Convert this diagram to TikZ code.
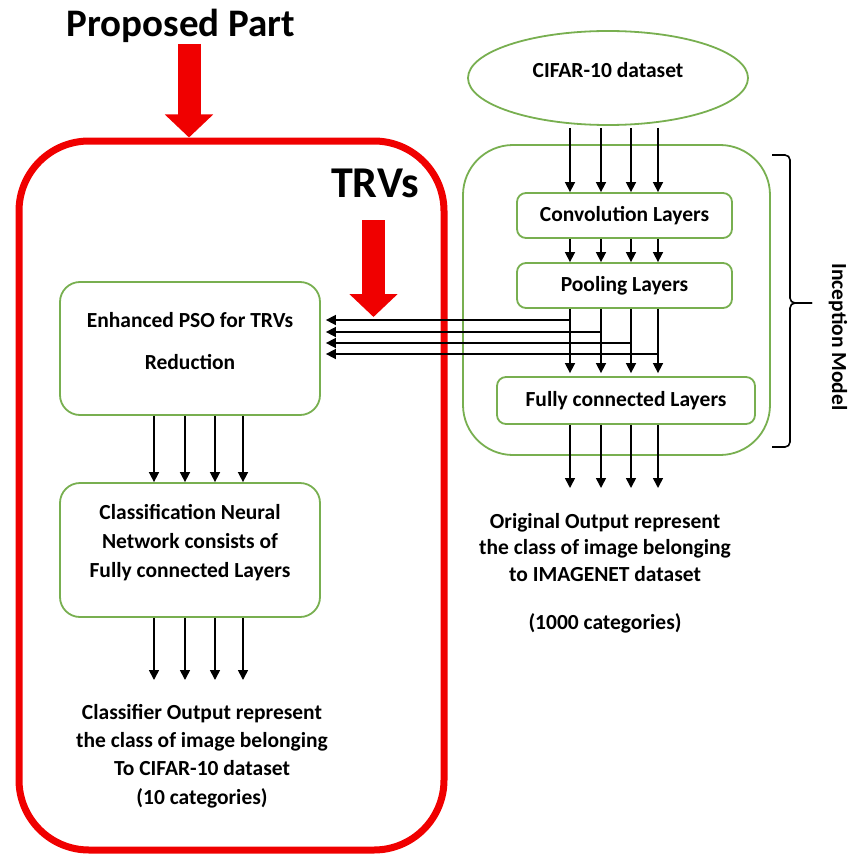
\documentclass[tikz,border=0pt]{standalone}
\usepackage{fontspec}
\setmainfont{Carlito}
\usetikzlibrary{arrows.meta,shapes.geometric}
\definecolor{leaf}{RGB}{120,175,80}
\definecolor{alarm}{RGB}{240,0,0}
\begin{document}
\begin{tikzpicture}[x=1pt,y=-1pt,
  lbl/.style={font=\bfseries\fontsize{21.5}{28.5}\selectfont, align=center, inner sep=0pt},
  greenbox/.style={draw=leaf, line width=1.8pt, inner sep=0pt},
  arr/.style={line width=1.6pt, -{Triangle[width=10pt,length=10pt]}},
  bigarrow/.style={alarm, line width=23pt, -{Triangle[width=47pt,length=23pt]}}
]
\useasboundingbox (0,0) rectangle (848,856);

% ---------- proposed part (left) ----------
\node[draw=alarm, line width=7pt, rounded corners=70pt, minimum width=425pt,
      minimum height=709pt, inner sep=0pt] (proposed) at (231.5,495.5) {};
\node[anchor=base, font=\bfseries\fontsize{39}{43}\selectfont, inner sep=0pt]
      (ptitle) at (181,37) {Proposed Part};
\coordinate (pstart) at (189,44);
\draw[bigarrow] (pstart) -- (pstart |- proposed.north);

\node[anchor=base, font=\bfseries\fontsize{44}{48}\selectfont, inner sep=0pt]
      (trvs) at (375,197) {TRVs};
\coordinate (tstart) at (373.5,220);
\coordinate (ttip) at (373.5,317);
\draw[bigarrow] (tstart) -- (ttip);

\node[greenbox, rounded corners=20pt, minimum width=260pt, minimum height=133pt]
      (pso) at (190,348.5) {};
\node[lbl] (psotext) at (190,320) {Enhanced PSO for TRVs};
\node[lbl] (psotext2) at (190,362) {Reduction};

\node[greenbox, rounded corners=20pt, minimum width=260pt, minimum height=134pt]
      (cls) at (190,550) {};
\node[lbl, font=\bfseries\fontsize{21.5}{29}\selectfont] (clstext) at (190,543)
      {Classification Neural\\ Network consists of\\ Fully connected Layers};

\node[lbl, anchor=north, font=\bfseries\fontsize{21.5}{28.3}\selectfont] (clsout) at (202,704)
      {Classifier Output represent\\ the class of image belonging\\ To CIFAR-10 dataset\\ (10 categories)};

% left arrow columns
\foreach \i/\x in {1/154,2/185,3/215,4/243}{
  \coordinate (lc\i) at (\x,0);
}
\coordinate (clsend) at (0,680);
\foreach \i in {1,...,4}{
  \draw[arr] (lc\i |- pso.south) -- (lc\i |- cls.north);
  \draw[arr] (lc\i |- cls.south) -- (lc\i |- clsend);
}

% ---------- inception model (right) ----------
\node[draw=leaf, line width=1.8pt, ellipse, minimum width=280pt, minimum height=94pt,
      inner sep=0pt, lbl] (cifar) at (608,78) {\raisebox{16pt}{CIFAR-10 dataset}};

\node[greenbox, rounded corners=50pt, minimum width=307pt, minimum height=310pt]
      (inception) at (616.5,300) {};

\node[greenbox, rounded corners=9pt, minimum width=215pt, minimum height=45pt, lbl]
      (conv) at (624.5,215.5) {Convolution Layers};
\node[greenbox, rounded corners=9pt, minimum width=215pt, minimum height=45pt, lbl]
      (pool) at (624.5,285.5) {Pooling Layers};
\node[greenbox, rounded corners=9pt, minimum width=258pt, minimum height=47pt, lbl]
      (fc) at (626,400.5) {Fully connected Layers};

\node[lbl, anchor=north, font=\bfseries\fontsize{21.5}{26.5}\selectfont] (origout) at (605,513)
      {Original Output represent\\ the class of image belonging\\ to IMAGENET dataset\\[22pt] (1000 categories)};

\foreach \i/\x in {1/570,2/601,3/631,4/658}{
  \coordinate (rc\i) at (\x,0);
}
\foreach \i/\y in {1/320,2/332,3/343,4/354}{
  \coordinate (h\i) at (0,\y);
}
\coordinate (fcend) at (0,488);
\foreach \i in {1,...,4}{
  \draw[arr, shorten <=2pt] (rc\i |- cifar.south) -- (rc\i |- conv.north);
  \draw[arr] (rc\i |- conv.south) -- (rc\i |- pool.north);
  \draw[arr, shorten >=3pt] (rc\i |- pool.south) -- (rc\i |- fc.north);
  \draw[arr, shorten >=5pt] (rc\i |- h\i) -- (pso.east |- h\i);
  \draw[arr] (rc\i |- fc.south) -- (rc\i |- fcend);
}

% bracket around the inception model
\coordinate (btop) at (772,155);
\coordinate (bbot) at (772,447);
\coordinate (btip) at (812,303);
\draw[line width=1.6pt, rounded corners=5pt] (btop) -- (790,155) -- (790,303) -- (btip);
\draw[line width=1.6pt, rounded corners=5pt] (btip) -- (790,303) -- (790,447) -- (bbot);
\node[lbl, rotate=-90] (inclabel) at (838,337) {Inception Model};

\end{tikzpicture}
\end{document}
